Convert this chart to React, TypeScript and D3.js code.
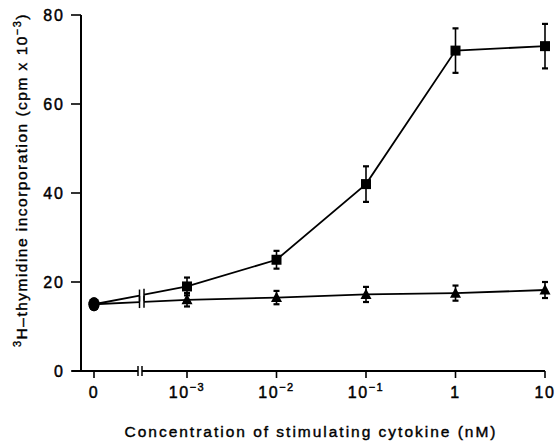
import React, { useLayoutEffect, useRef } from "react";
import * as d3 from "d3";

// concentration of stimulating cytokine (nM), 0 = unstimulated control
const concentrations = [0, 1e-3, 1e-2, 1e-1, 1, 10];
const squareMeans = [15, 19, 25, 42, 72, 73];
const squareErrors = [1, 2, 2, 4, 5, 5];
const triangleMeans = [15, 16, 16.5, 17.2, 17.5, 18.2];
const triangleErrors = [1, 1.5, 1.5, 1.7, 1.7, 1.8];

const yTicks = [0, 20, 40, 60, 80];
const xTickValues = [0, 1e-3, 1e-2, 1e-1, 1, 10];
const xTickBases = ["0", "10", "10", "10", "1", "10"];
const xTickSups = ["", "−3", "−2", "−1", "", ""];

const W = 557;
const H = 444;
const FONT = "'Liberation Sans', Arial, Helvetica, sans-serif";

const y = d3.scaleLinear().domain([0, 80]).range([371, 15]);
const xLog = d3.scaleLog().domain([1e-3, 10]).range([187, 545]);
const zeroX = 94;
const x = (d: number) => (d === 0 ? zeroX : xLog(d));

// axis break (between the 0 point and the log part)
const axisBreak = [138, 142];
const lineBreak = [139.5, 144];

function Series({ means, errors, marker }: { means: number[]; errors: number[]; marker: "square" | "triangle" }) {
  const pts = concentrations.map((c, i) => [x(c), y(means[i])] as [number, number]);
  const [p0, p1] = pts;
  const at = (bx: number) => p0[1] + ((bx - p0[0]) / (p1[0] - p0[0])) * (p1[1] - p0[1]);
  const line = d3.line();
  const firstA: [number, number][] = [p0, [lineBreak[0], at(lineBreak[0])]];
  const firstB: [number, number][] = [[lineBreak[1], at(lineBreak[1])], p1];
  return (
    <g>
      <path d={line(firstA) || ""} fill="none" stroke="#000" strokeWidth={1.8} />
      <path d={line(firstB) || ""} fill="none" stroke="#000" strokeWidth={1.8} />
      {lineBreak.map((bx) => (
        <line key={bx} x1={bx} x2={bx} y1={at(bx) - 6} y2={at(bx) + 6} stroke="#000" strokeWidth={1.5} />
      ))}
      <path d={line(pts.slice(1)) || ""} fill="none" stroke="#000" strokeWidth={1.8} />
      {concentrations.map((c, i) => {
        const cx = x(c);
        const top = y(means[i] + errors[i]);
        const bot = y(means[i] - errors[i]);
        return (
          <g key={"e" + i} stroke="#000" strokeWidth={1.6}>
            <line x1={cx} x2={cx} y1={top} y2={bot} />
            <line x1={cx - 3} x2={cx + 3} y1={top} y2={top} strokeWidth={2.2} />
            <line x1={cx - 3} x2={cx + 3} y1={bot} y2={bot} strokeWidth={2.2} />
          </g>
        );
      })}
      {concentrations.map((c, i) => {
        const cx = x(c);
        const cy = y(means[i]);
        if (c === 0) return <ellipse key={"m" + i} cx={cx} cy={cy} rx={5.5} ry={7} fill="#000" />;
        if (marker === "square")
          return <rect key={"m" + i} x={cx - 5} y={cy - 5} width={10} height={10} fill="#000" />;
        return (
          <path
            key={"m" + i}
            d={`M${cx},${cy - 6}L${cx + 5.5},${cy + 4.5}L${cx - 5.5},${cy + 4.5}Z`}
            fill="#000"
          />
        );
      })}
    </g>
  );
}

export default function App() {
  const ref = useRef<SVGSVGElement>(null);

  // stretch the titles to the width they take in the original figure
  useLayoutEffect(() => {
    const svg = d3.select(ref.current);
    svg.selectAll<SVGTextElement, unknown>("text[data-len]").each(function () {
      const target = +(this.getAttribute("data-len") || 0);
      this.style.letterSpacing = "0px";
      const len = this.getComputedTextLength();
      const n = (this.textContent || "").length;
      this.style.letterSpacing = `${(target - len) / n}px`;
    });
  }, []);

  return (
    <svg
      ref={ref}
      width={W}
      height={H}
      style={{ position: "absolute", left: 0, top: 0, background: "#fff" }}
      fontFamily={FONT}
    >
      {/* y axis */}
      <line x1={81} x2={81} y1={y(80)} y2={y(0)} stroke="#000" strokeWidth={2} />
      {yTicks.map((t) => (
        <g key={t}>
          <line x1={71} x2={81} y1={y(t)} y2={y(t)} stroke="#000" strokeWidth={1.6} />
          <text
            x={65}
            y={y(t) + 6}
            textAnchor="end"
            fontSize={16}
            letterSpacing={2}
            stroke="#000"
            strokeWidth={0.45}
          >
            {t}
          </text>
        </g>
      ))}

      {/* x axis with break */}
      <line x1={72} x2={axisBreak[0]} y1={y(0)} y2={y(0)} stroke="#000" strokeWidth={2} />
      <line x1={axisBreak[1]} x2={xLog(10)} y1={y(0)} y2={y(0)} stroke="#000" strokeWidth={2} />
      {axisBreak.map((bx) => (
        <line key={bx} x1={bx} x2={bx} y1={y(0) - 5} y2={y(0) + 5} stroke="#000" strokeWidth={1.5} />
      ))}
      {xTickValues.map((t, i) => (
        <g key={i}>
          <line x1={x(t)} x2={x(t)} y1={y(0)} y2={y(0) + 7} stroke="#000" strokeWidth={1.6} />
          <text
            x={x(t)}
            y={398}
            textAnchor="middle"
            fontSize={16}
            letterSpacing={1.5}
            stroke="#000"
            strokeWidth={0.45}
          >
            {xTickBases[i]}
            {xTickSups[i] && (
              <tspan fontSize={11} dy={-7}>
                {xTickSups[i]}
              </tspan>
            )}
          </text>
        </g>
      ))}

      <Series means={squareMeans} errors={squareErrors} marker="square" />
      <Series means={triangleMeans} errors={triangleErrors} marker="triangle" />

      {/* axis titles */}
      <text
        x={311}
        y={437}
        textAnchor="middle"
        fontSize={15.5}
        stroke="#000"
        strokeWidth={0.4}
        data-len={373}
      >
        Concentration of stimulating cytokine (nM)
      </text>
      <text
        transform="translate(27,180) rotate(-90)"
        textAnchor="middle"
        fontSize={15.5}
        stroke="#000"
        strokeWidth={0.4}
        data-len={334}
      >
        <tspan fontSize={11} dy={-6}>
          3
        </tspan>
        <tspan dy={6}>H–thymidine incorporation (cpm x 10</tspan>
        <tspan fontSize={11} dy={-6}>
          −3
        </tspan>
        <tspan dy={6}>)</tspan>
      </text>
    </svg>
  );
}
